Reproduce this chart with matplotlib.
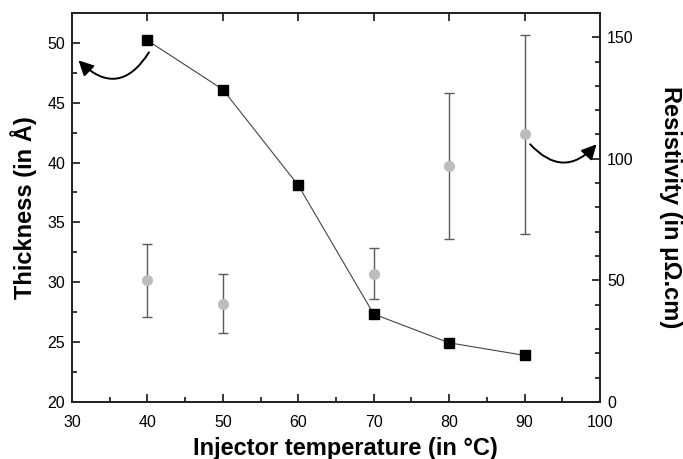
import numpy as np
import matplotlib
matplotlib.use("Agg")
from matplotlib import pyplot as plt
from matplotlib.patches import FancyArrowPatch
from matplotlib.ticker import MultipleLocator

plt.rcParams['font.family'] = ['Liberation Sans', 'DejaVu Sans']

# data
temp = [40, 50, 60, 70, 80, 90]
thickness = [50.2, 46.1, 38.1, 27.35, 24.95, 23.9]

temp_res = [40, 50, 70, 80, 90]
resistivity = [50.0, 40.5, 52.8, 97.0, 110.0]
res_err = [15.0, 12.3, 10.6, 29.9, 41.0]

fig = plt.figure(figsize=(6.83, 4.59), dpi=100)
ax = fig.add_axes([0.1054, 0.124, 0.773, 0.848])
ax2 = ax.twinx()

ax.plot(temp, thickness, color='#444444', lw=0.8, marker='s', ms=7,
        mfc='black', mec='black', zorder=3)
ax2.errorbar(temp_res, resistivity, yerr=res_err, fmt='o', ms=7,
             color='#bdbdbd', ecolor='#5a5a5a', elinewidth=1.0,
             capsize=3.5, capthick=1.0, zorder=2)

ax.set_xlim(30, 100)
ax.set_ylim(20, 52.5)
ax2.set_ylim(0, 160)

ax.xaxis.set_major_locator(MultipleLocator(10))
ax.xaxis.set_minor_locator(MultipleLocator(5))
ax.yaxis.set_major_locator(MultipleLocator(5))
ax.yaxis.set_minor_locator(MultipleLocator(2.5))
ax2.yaxis.set_major_locator(MultipleLocator(50))
ax2.yaxis.set_minor_locator(MultipleLocator(10))

ax.tick_params(axis='both', which='major', direction='in', length=6, width=1.1,
               labelsize=11.5, pad=5)
ax.tick_params(axis='x', which='major', pad=9.5, top=True)
ax.tick_params(axis='both', which='minor', direction='in', length=3.5, width=1.1)
ax.tick_params(axis='x', which='minor', top=False)
ax2.tick_params(axis='y', which='major', direction='in', length=6, width=1.1,
                labelsize=11.5, pad=5)
ax2.tick_params(axis='y', which='minor', direction='in', length=3.5, width=1.1)

for a in (ax, ax2):
    for s in a.spines.values():
        s.set_linewidth(1.3)
        s.set_color('#222222')

ax.set_xlabel('Injector temperature (in °C)', fontsize=17, fontweight='bold', labelpad=5)
ax.xaxis.label.set_x(0.517)
ax.set_ylabel('Thickness (in Å)', fontsize=17, fontweight='bold', labelpad=7)
ax2.set_ylabel('Resistivity (in μΩ.cm)', fontsize=17, fontweight='bold',
               rotation=270, labelpad=35)

# curved arrows pointing to each axis
arr1 = FancyArrowPatch((40.4, 49.4), (30.6, 48.7), connectionstyle='arc3,rad=-0.65',
                       arrowstyle='-|>,head_length=0.6,head_width=0.3',
                       mutation_scale=15, lw=1.4, color='black', zorder=4)
ax.add_patch(arr1)
arr2 = FancyArrowPatch((90.5, 41.7), (99.8, 41.7), connectionstyle='arc3,rad=0.57',
                       arrowstyle='-|>,head_length=0.6,head_width=0.3',
                       mutation_scale=15, lw=1.4, color='black', zorder=4)
ax.add_patch(arr2)

fig.savefig('out.png', dpi=100)
